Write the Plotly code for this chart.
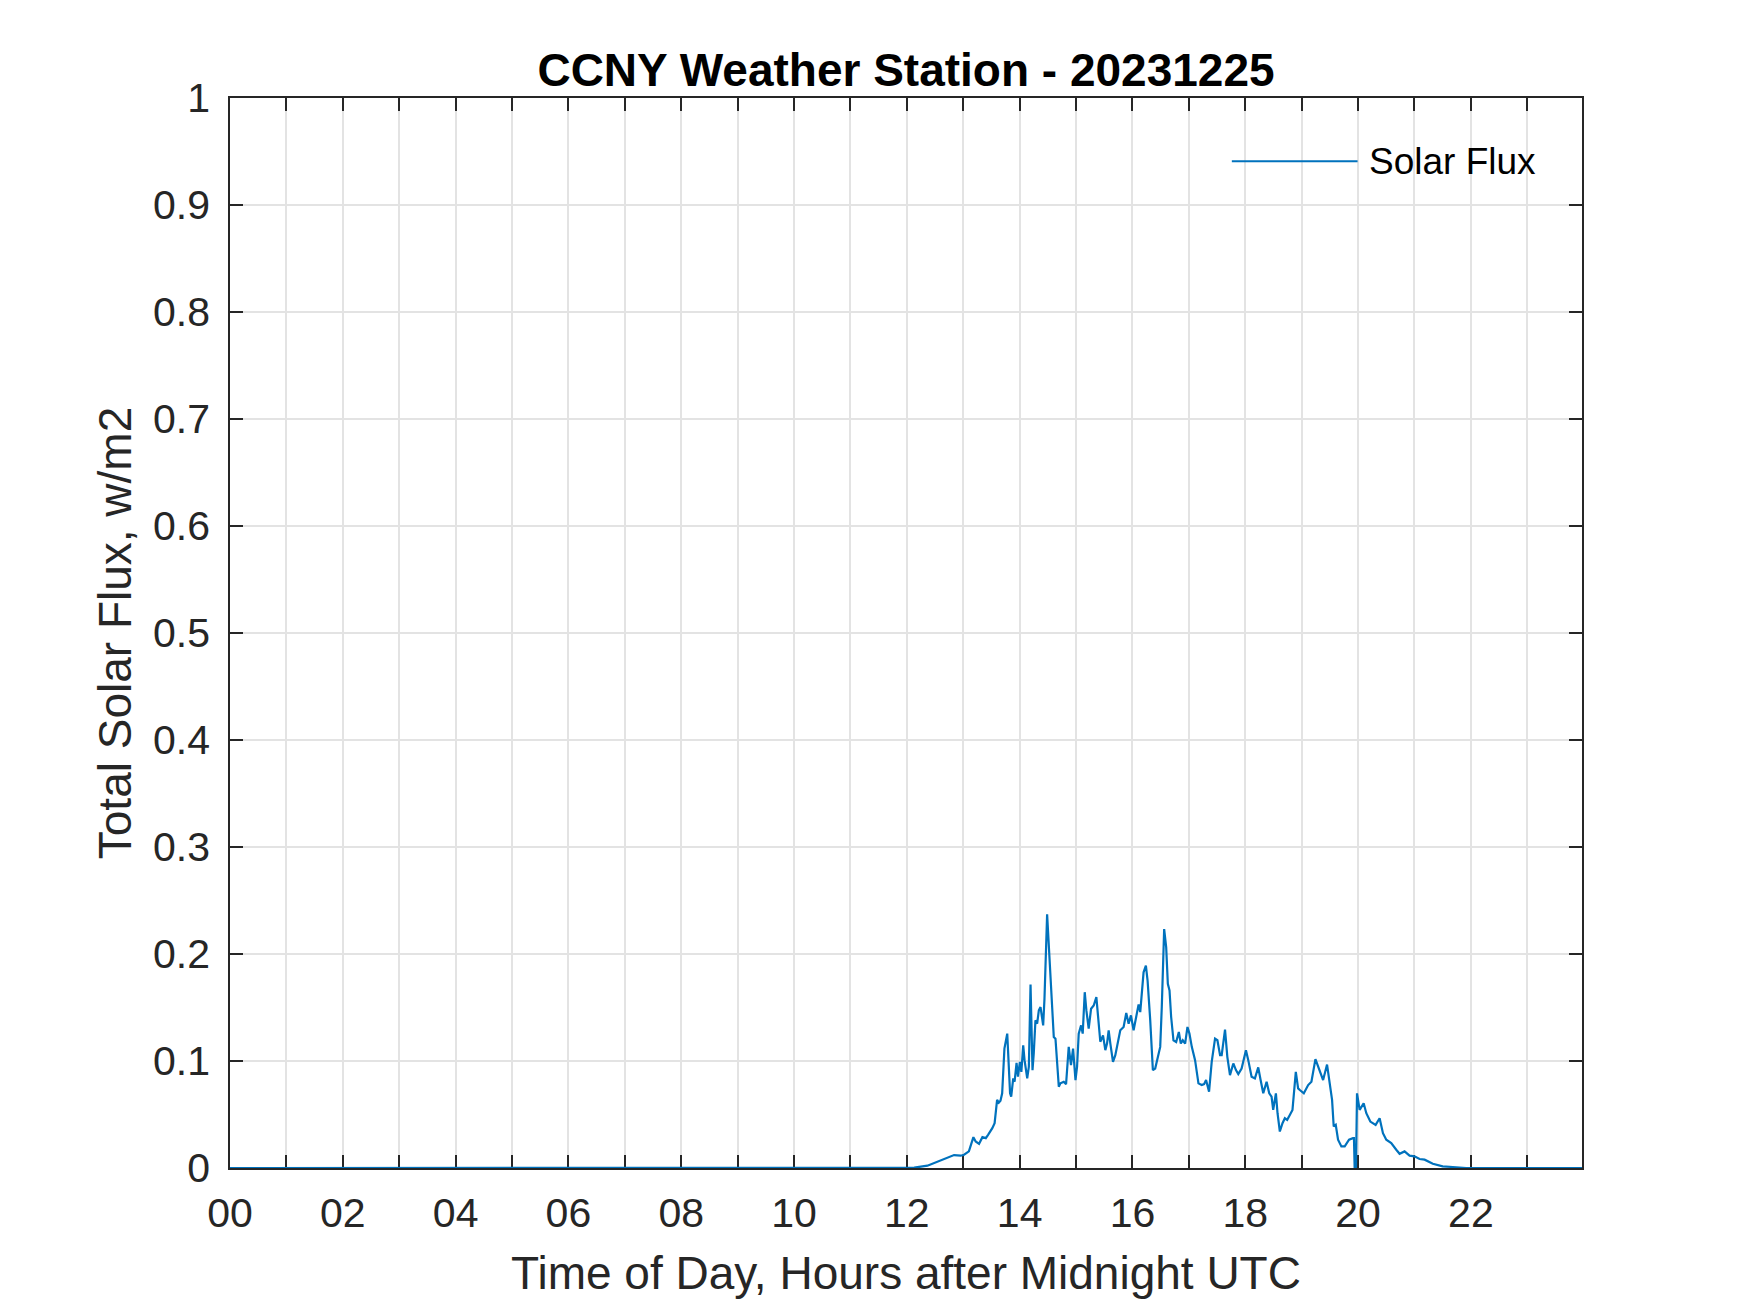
import plotly.graph_objects as go

# Time of day (hours after midnight UTC) and total solar flux readings
hours = [0.0, 12.0, 12.13, 12.365, 12.60, 12.837, 12.955, 13.014, 13.10, 13.13, 13.18, 13.22, 13.28,
         13.34, 13.40, 13.44, 13.515, 13.556, 13.60, 13.63, 13.66, 13.69, 13.73, 13.78, 13.83,
         13.85, 13.886, 13.91, 13.945, 13.97, 14.004, 14.03, 14.063, 14.087, 14.134, 14.163,
         14.193, 14.228, 14.25, 14.28, 14.31, 14.34, 14.37, 14.417, 14.44, 14.487, 14.535,
         14.576, 14.605, 14.635, 14.694, 14.723, 14.782, 14.823, 14.87, 14.91, 14.947, 14.99,
         15.018, 15.047, 15.089, 15.118, 15.154, 15.183, 15.224, 15.266, 15.313, 15.36, 15.40,
         15.43, 15.478, 15.519, 15.549, 15.578, 15.608, 15.655, 15.696, 15.737, 15.784, 15.843,
         15.89, 15.932, 15.973, 16.02, 16.067, 16.109, 16.138, 16.167, 16.197, 16.238, 16.268,
         16.315, 16.362, 16.403, 16.444, 16.492, 16.52, 16.562, 16.598, 16.627, 16.657, 16.686,
         16.727, 16.775, 16.822, 16.857, 16.892, 16.934, 16.975, 17.01, 17.052, 17.11, 17.17,
         17.228, 17.27, 17.305, 17.358, 17.405, 17.464, 17.506, 17.553, 17.582, 17.641, 17.682,
         17.729, 17.788, 17.835, 17.876, 17.935, 18.012, 18.053, 18.112, 18.171, 18.23, 18.272,
         18.319, 18.378, 18.425, 18.466, 18.495, 18.543, 18.572, 18.613, 18.66, 18.702, 18.743,
         18.79, 18.837, 18.896, 18.937, 18.967, 19.038, 19.115, 19.173, 19.244, 19.309, 19.38,
         19.45, 19.498, 19.539, 19.568, 19.604, 19.645, 19.704, 19.763, 19.84, 19.91, 19.927,
         19.939, 19.963, 19.981, 20.028, 20.099, 20.146, 20.217, 20.311, 20.382, 20.441, 20.50,
         20.588, 20.677, 20.736, 20.824, 20.913, 21.0, 21.09, 21.18, 21.325, 21.50, 21.74,
         21.92, 23.97]
solar_flux = [0.0, 0.0, 0.0003, 0.0022, 0.0068, 0.0121, 0.0115, 0.0124, 0.0155, 0.0202, 0.0288, 0.0248, 0.0226,
              0.0288, 0.0279, 0.0310, 0.0372, 0.0419, 0.0636, 0.0611, 0.0629, 0.0698, 0.1116, 0.1256, 0.0698,
              0.0667, 0.0837, 0.0806, 0.0983, 0.0853, 0.0992, 0.0899, 0.1147, 0.1008, 0.0837, 0.0946,
              0.1715, 0.0915, 0.1070, 0.1380, 0.1349, 0.1473, 0.1504, 0.1333, 0.1581, 0.2372, 0.1876,
              0.1504, 0.1225, 0.1209, 0.0760, 0.0791, 0.0806, 0.0784, 0.1132, 0.0961, 0.1116, 0.0822,
              0.0946, 0.1256, 0.1333, 0.1256, 0.1643, 0.1473, 0.1302, 0.1488, 0.1519, 0.1597, 0.1318,
              0.1180, 0.1240, 0.1101, 0.1163, 0.1287, 0.1163, 0.0992, 0.1054, 0.1163, 0.1287, 0.1318,
              0.1448, 0.1349, 0.1426, 0.1287, 0.1411, 0.1529, 0.1457, 0.1659, 0.1829, 0.1891, 0.1752,
              0.1380, 0.0915, 0.0930, 0.1039, 0.1132, 0.1504, 0.2233, 0.2062, 0.1721, 0.1659, 0.1411,
              0.1194, 0.1178, 0.1271, 0.1163, 0.1194, 0.1163, 0.1318, 0.1256, 0.1132, 0.1008, 0.0791,
              0.0775, 0.0784, 0.0822, 0.0713, 0.0992, 0.1209, 0.1194, 0.1054, 0.1054, 0.1293, 0.1039,
              0.0868, 0.0977, 0.0915, 0.0878, 0.0930, 0.1101, 0.1008, 0.0853, 0.0837, 0.0940, 0.0822,
              0.0698, 0.0806, 0.0698, 0.0667, 0.0543, 0.0698, 0.0512, 0.0341, 0.0419, 0.0465, 0.0450,
              0.0496, 0.0543, 0.0899, 0.0744, 0.0729, 0.0698, 0.0775, 0.0806, 0.1017, 0.0930, 0.0822,
              0.0967, 0.0791, 0.0636, 0.0388, 0.0403, 0.0264, 0.0202, 0.0202, 0.0264, 0.0279, 0.0279,
              0.0, 0.0, 0.0698, 0.0543, 0.0605, 0.0512, 0.0434, 0.0403, 0.0465, 0.0326, 0.0264,
              0.0233, 0.0171, 0.0133, 0.0155, 0.0115, 0.0109, 0.0084, 0.0078, 0.0040, 0.0016, 0.0003,
              0.0, 0.0]

x_tick_vals = list(range(24))
x_tick_text = [f"{h:02d}" if h % 2 == 0 else "" for h in x_tick_vals]
y_tick_vals = [0, 0.1, 0.2, 0.3, 0.4, 0.5, 0.6, 0.7, 0.8, 0.9, 1.0]
y_tick_text = ["0", "0.1", "0.2", "0.3", "0.4", "0.5", "0.6", "0.7", "0.8", "0.9", "1"]

title_text = "CCNY Weather Station - 20231225"
x_label = "Time of Day, Hours after Midnight UTC"
y_label = "Total Solar Flux, w/m2"
series_name = "Solar Flux"

LINE_COLOR = "#0072BD"
AX_COLOR = "#262626"
GRID_COLOR = "#e3e3e3"
FONT = "Liberation Sans, Arial, Helvetica, sans-serif"

fig = go.Figure()
fig.add_trace(go.Scatter(x=hours, y=solar_flux, mode="lines", name=series_name,
                         line=dict(color=LINE_COLOR, width=2.2), showlegend=False))

axis_common = dict(
    showline=True, linecolor=AX_COLOR, linewidth=1.5, mirror="ticks",
    ticks="inside", ticklen=13, tickwidth=1.5, tickcolor=AX_COLOR,
    showgrid=True, gridcolor=GRID_COLOR, gridwidth=1.5, zeroline=False,
    tickfont=dict(family=FONT, size=41, color=AX_COLOR),
    layer="below traces",
)

fig.update_xaxes(range=[0, 23.97], tickmode="array", tickvals=x_tick_vals, ticktext=x_tick_text,
                 title=dict(text=x_label, font=dict(family=FONT, size=46, color=AX_COLOR), standoff=22),
                 ticklabelstandoff=8, **axis_common)
fig.update_yaxes(range=[0, 1], tickmode="array", tickvals=y_tick_vals, ticktext=y_tick_text,
                 title=dict(text=y_label, font=dict(family=FONT, size=46, color=AX_COLOR), standoff=7),
                 ticklabelstandoff=10, **axis_common)

# Legend (MATLAB-style, no box)
fig.add_shape(type="line", xref="paper", yref="paper", x0=0.741, x1=0.834, y0=0.941, y1=0.941,
              line=dict(color=LINE_COLOR, width=2))
fig.add_annotation(xref="paper", yref="paper", x=0.841, y=0.941, xanchor="left", yanchor="middle",
                   text=series_name, showarrow=False,
                   font=dict(family=FONT, size=37, color="#000000"))

fig.update_layout(
    width=1750, height=1313,
    margin=dict(l=222, r=176, t=90, b=153, autoexpand=False),
    paper_bgcolor="white", plot_bgcolor="white",
    title=dict(text=f"<b>{title_text}</b>", x=0.5, xref="paper", xanchor="center",
               y=1, yref="paper", yanchor="bottom", pad=dict(b=12),
               font=dict(family=FONT, size=46, color="#000000")),
)

fig.write_html("out.html")
